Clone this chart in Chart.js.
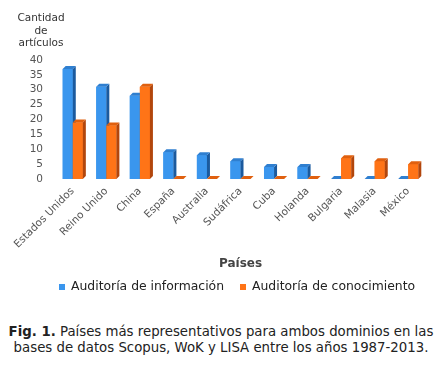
<!DOCTYPE html>
<html>
<head>
<meta charset="utf-8">
<script src="https://cdn.jsdelivr.net/npm/chart.js@4/dist/chart.umd.min.js"></script>
<style>
  body { margin: 0; background: #fff; }
  #wrap { position: relative; width: 442px; height: 375px; }
  #chartBox { position: absolute; left: 0; top: 0; width: 442px; height: 303px; }
  #caption {
    position: absolute; left: 0; top: 324px; width: 442px;
    text-align: center; font-family: "DejaVu Sans", Verdana, sans-serif;
    font-size: 13.3px; line-height: 16px; color: #222;
  }
</style>
</head>
<body>
<div id="wrap">
  <div id="chartBox"><canvas id="paisesChart"></canvas></div>
  <div id="caption"><b>Fig. 1.</b> Países más representativos para ambos dominios en las<br>bases de datos Scopus, WoK y LISA entre los años 1987-2013.</div>
</div>
<script>
const paises = ['Estados Unidos', 'Reino Unido', 'China', 'España', 'Australia', 'Sudáfrica', 'Cuba', 'Holanda', 'Bulgaria', 'Malasia', 'México'];
const auditoriaInformacion = [37, 31, 28, 9, 8, 6, 4, 4, 0, 0, 0];
const auditoriaConocimiento = [19, 18, 31, 0, 0, 0, 0, 0, 7, 6, 5];
const yTitleLines = ['Cantidad', 'de', 'artículos'];

const fontFamily = '"DejaVu Sans", Verdana, sans-serif';

// Fake 3D depth: side and top faces, drawn bar by bar so the
// next bar's front covers the previous bar's side where they touch
const depthPlugin = {
  id: 'depth',
  afterDatasetsDraw(chart) {
    const ctx = chart.ctx;
    const d = 3;
    ctx.save();
    chart.data.labels.forEach((_, i) => {
      chart.data.datasets.forEach((ds, di) => {
        const bar = chart.getDatasetMeta(di).data[i];
        const { x, y, base, width } = bar.getProps(['x', 'y', 'base', 'width'], true);
        const left = x - width / 2;
        const right = x + width / 2;
        // front face again (covers earlier side faces)
        ctx.fillStyle = ds.backgroundColor;
        ctx.fillRect(left, y, width, base - y);
        ctx.fillStyle = ds.sideColor;
        ctx.beginPath();
        ctx.moveTo(right, y);
        ctx.lineTo(right + d, y - d);
        ctx.lineTo(right + d, base - d);
        ctx.lineTo(right, base);
        ctx.closePath();
        ctx.fill();
        ctx.fillStyle = ds.topColor;
        ctx.beginPath();
        ctx.moveTo(left, y);
        ctx.lineTo(left + d, y - d);
        ctx.lineTo(right + d, y - d);
        ctx.lineTo(right, y);
        ctx.closePath();
        ctx.fill();
      });
    });
    ctx.restore();
  }
};

// y axis title written horizontally above the ticks
const yTitlePlugin = {
  id: 'yTitle',
  afterDraw(chart) {
    const ctx = chart.ctx;
    ctx.save();
    ctx.font = '10.5px ' + fontFamily;
    ctx.fillStyle = '#333';
    ctx.textAlign = 'center';
    ctx.textBaseline = 'middle';
    yTitleLines.forEach((line, i) => {
      ctx.fillText(line, 41, 18.5 + i * 12.5);
    });
    ctx.restore();
  }
};

// legend drawn by hand so item spacing matches the original
const legendPlugin = {
  id: 'manualLegend',
  afterDraw(chart) {
    const ctx = chart.ctx;
    const items = [{ x: 59 }, { x: 240 }];
    ctx.save();
    ctx.font = '12.4px ' + fontFamily;
    ctx.textBaseline = 'middle';
    chart.data.datasets.forEach((ds, i) => {
      const x = items[i].x;
      ctx.fillStyle = ds.backgroundColor;
      ctx.fillRect(x, 284, 6, 6);
      ctx.fillStyle = '#222';
      ctx.fillText(ds.label, x + 12, 287);
    });
    ctx.restore();
  }
};

new Chart(document.getElementById('paisesChart'), {
  type: 'bar',
  data: {
    labels: paises,
    datasets: [
      {
        label: 'Auditoría de información',
        data: auditoriaInformacion,
        backgroundColor: '#3a96ee',
        sideColor: '#1b5a9e',
        topColor: '#2f7fd0',
        categoryPercentage: 0.6,
        barPercentage: 1.0
      },
      {
        label: 'Auditoría de conocimiento',
        data: auditoriaConocimiento,
        backgroundColor: '#ff7417',
        sideColor: '#b2460c',
        topColor: '#e0600f',
        categoryPercentage: 0.6,
        barPercentage: 1.0
      }
    ]
  },
  options: {
    responsive: true,
    maintainAspectRatio: false,
    animation: false,
    layout: { padding: { top: 60, right: 17, left: 0, bottom: 32 } },
    plugins: {
      legend: { display: false },
      tooltip: { enabled: false }
    },
    scales: {
      y: {
        min: 0,
        max: 40,
        border: { display: false },
        grid: { display: false, drawTicks: false },
        afterFit(scale) { scale.width = 56; },
        ticks: {
          stepSize: 5,
          autoSkip: false,
          color: '#555',
          padding: 13,
          font: { family: fontFamily, size: 10.5 }
        }
      },
      x: {
        border: { display: false },
        grid: { display: false, drawTicks: false },
        afterFit(scale) { scale.height = 92; },
        ticks: {
          maxRotation: 45,
          minRotation: 45,
          autoSkip: false,
          color: '#555',
          padding: 6,
          font: { family: fontFamily, size: 10.5 }
        },
        title: {
          display: true,
          text: 'Países',
          color: '#444',
          padding: { top: 0, bottom: 0 },
          font: { family: fontFamily, size: 12, weight: 'bold' }
        }
      }
    }
  },
  plugins: [depthPlugin, yTitlePlugin, legendPlugin]
});
</script>
</body>
</html>
